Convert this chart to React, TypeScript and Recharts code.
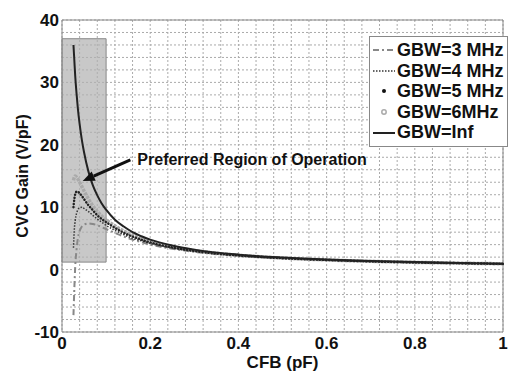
import React from "react"
import {
  LineChart,
  Line,
  XAxis,
  YAxis,
  CartesianGrid,
  ReferenceArea,
  ReferenceLine,
  Legend,
} from "recharts"

// CFB values (pF) shared by all curves
const cfb = [
  0.026, 0.028, 0.03, 0.033, 0.036, 0.04, 0.045, 0.05, 0.06, 0.07, 0.08, 0.09, 0.1, 0.12, 0.14, 0.16, 0.18,
  0.2, 0.25, 0.3, 0.4, 0.5, 0.6, 0.7, 0.8, 0.9, 1.0,
]

// CVC gain (V/pF)
const gbw3 = [
  -7.3, -3.0, 0.5, 3.2, 5.0, 6.2, 6.9, 7.2, 7.4, 7.3, 7.1, 6.8, 6.5, 5.9, 5.3, 4.8, 4.4, 4.0, 3.35, 2.85, 2.2,
  1.8, 1.52, 1.3, 1.13, 1.01, 0.91,
]
const gbw4 = [
  3.5, 6.5, 7.9, 9.0, 9.6, 9.9, 10.0, 9.8, 9.3, 8.7, 8.1, 7.6, 7.1, 6.3, 5.6, 5.0, 4.6, 4.2, 3.45, 2.93, 2.24,
  1.82, 1.53, 1.31, 1.14, 1.02, 0.92,
]
const gbw5 = [
  10.0, 11.3, 12.1, 12.5, 12.5, 12.2, 11.8, 11.3, 10.3, 9.5, 8.7, 8.1, 7.6, 6.7, 5.9, 5.3, 4.8, 4.35, 3.55, 3.0,
  2.27, 1.84, 1.54, 1.32, 1.15, 1.03, 0.92,
]
const gbw6 = [
  14.3, 14.8, 15.0, 14.8, 14.5, 14.0, 13.3, 12.6, 11.3, 10.2, 9.3, 8.6, 8.0, 7.0, 6.2, 5.5, 4.95, 4.5, 3.65,
  3.05, 2.3, 1.86, 1.55, 1.33, 1.16, 1.04, 0.93,
]
const gbwInf = [
  36.0, 33.5, 31.0, 28.2, 25.8, 23.3, 20.8, 18.8, 15.7, 13.5, 11.9, 10.6, 9.6, 8.0, 6.9, 6.0, 5.35, 4.8, 3.85,
  3.2, 2.4, 1.93, 1.6, 1.37, 1.2, 1.07, 0.95,
]

// ticks: every grid line is a tick, only some get a label
const xLabels = [0, 0.2, 0.4, 0.6, 0.8, 1]
const yLabels = [-10, 0, 10, 20, 30, 40]
const xGrid = [
  0, 0.04, 0.08, 0.12, 0.16, 0.2, 0.24, 0.28, 0.32, 0.36, 0.4, 0.44, 0.48, 0.52, 0.56, 0.6, 0.64, 0.68, 0.72,
  0.76, 0.8, 0.84, 0.88, 0.92, 0.96, 1,
]
const yGrid = [
  -10, -8, -6, -4, -2, 0, 2, 4, 6, 8, 10, 12, 14, 16, 18, 20, 22, 24, 26, 28, 30, 32, 34, 36, 38, 40,
]

const legendItems = [
  { key: "g3", label: "GBW=3 MHz" },
  { key: "g4", label: "GBW=4 MHz" },
  { key: "g5", label: "GBW=5 MHz" },
  { key: "g6", label: "GBW=6MHz" },
  { key: "inf", label: "GBW=Inf" },
]

const data = cfb.map((x, i) => ({
  cfb: x,
  g3: gbw3[i],
  g4: gbw4[i],
  g5: gbw5[i],
  g6: gbw6[i],
  inf: gbwInf[i],
}))

const font = "'Liberation Sans', Arial, sans-serif"

const fmt = (labels: number[]) => (v: number) =>
  labels.some((l) => Math.abs(l - v) < 1e-9) ? String(v) : ""

const Sample = ({ k }: { k: string }) => (
  <svg width={24} height={12} style={{ marginRight: 1 }}>
    {k === "g3" && <line x1={1} y1={6} x2={23} y2={6} stroke="#888" strokeWidth={2} strokeDasharray="6 3 2 3" />}
    {k === "g4" && <line x1={1} y1={6} x2={23} y2={6} stroke="#333" strokeWidth={1.5} strokeDasharray="1.5 1.5" />}
    {k === "g5" && <circle cx={12} cy={6} r={2} fill="#111" />}
    {k === "g6" && <circle cx={12} cy={6} r={2.2} fill="none" stroke="#aaa" strokeWidth={1.5} />}
    {k === "inf" && <line x1={1} y1={6} x2={23} y2={6} stroke="#222" strokeWidth={2} />}
  </svg>
)

const renderLegend = () => (
  <div
    style={{
      border: "1.5px solid #888",
      background: "#fff",
      padding: "3px 3px 3px 2px",
      fontFamily: font,
      fontWeight: "bold",
      fontSize: 18,
      lineHeight: "20.6px",
      color: "#111",
    }}
  >
    {legendItems.map((it) => (
      <div key={it.key} style={{ display: "flex", alignItems: "center", whiteSpace: "nowrap" }}>
        <Sample k={it.key} />
        <span>{it.label}</span>
      </div>
    ))}
  </div>
)

const Arrow = (props: any) => {
  const { x1, y1, x2, y2 } = props
  const ang = Math.atan2(y2 - y1, x2 - x1)
  const len = 12
  const w = 5
  const bx = x2 - len * Math.cos(ang)
  const by = y2 - len * Math.sin(ang)
  const p1 = `${bx + w * Math.sin(ang)},${by - w * Math.cos(ang)}`
  const p2 = `${bx - w * Math.sin(ang)},${by + w * Math.cos(ang)}`
  return (
    <g>
      <line x1={x1} y1={y1} x2={bx} y2={by} stroke="#111" strokeWidth={3} />
      <polygon points={`${x2},${y2} ${p1} ${p2}`} fill="#111" />
      <text x={x1 + 7} y={y1 + 5} fontFamily={font} fontWeight="bold" fontSize={16} fill="#111">
        Preferred Region of Operation
      </text>
    </g>
  )
}

export default function App() {
  return (
    <div style={{ position: "absolute", left: 0, top: 0 }}>
      <LineChart width={508} height={372} data={data} margin={{ top: 20, right: 5, bottom: 0, left: 0 }}>
        <CartesianGrid stroke="#aaa" strokeDasharray="2 2" />
        <XAxis
          dataKey="cfb"
          type="number"
          domain={[0, 1]}
          ticks={xGrid}
          interval={0}
          tickFormatter={fmt(xLabels)}
          height={40}
          tickSize={0}
          tickMargin={5}
          tickLine={false}
          stroke="#888"
          tick={{ fill: "#111", fontFamily: font, fontWeight: "bold", fontSize: 17 }}
          label={{
            value: "CFB (pF)",
            position: "insideBottom",
            offset: 4,
            style: { fill: "#111", fontFamily: font, fontWeight: "bold", fontSize: 17 },
          }}
        />
        <YAxis
          type="number"
          domain={[-10, 40]}
          ticks={yGrid}
          interval={0}
          tickFormatter={fmt(yLabels)}
          width={62}
          tickSize={0}
          tickMargin={3}
          tickLine={false}
          stroke="#888"
          tick={{ fill: "#111", fontFamily: font, fontWeight: "bold", fontSize: 17 }}
          label={{
            value: "CVC Gain (V/pF)",
            angle: -90,
            position: "insideLeft",
            offset: 22,
            style: { textAnchor: "middle", fill: "#111", fontFamily: font, fontWeight: "bold", fontSize: 16 },
          }}
        />
        <ReferenceLine y={40} stroke="#888" />
        <ReferenceLine x={1} stroke="#888" />
        <ReferenceArea x1={0} x2={0.1} y1={1.2} y2={37} fill="#b0b0b0" fillOpacity={0.7} stroke="#888" strokeWidth={1} />
        <Line
          dataKey="g6"
          type="monotone"
          stroke="#aaa"
          strokeWidth={3.5}
          strokeDasharray="3 1"
          dot={false}
          isAnimationActive={false}
        />
        <Line
          dataKey="g3"
          type="monotone"
          stroke="#888"
          strokeWidth={2}
          strokeDasharray="6 3 2 3"
          dot={false}
          isAnimationActive={false}
        />
        <Line
          dataKey="g4"
          type="monotone"
          stroke="#333"
          strokeWidth={1.5}
          strokeDasharray="1.5 1.5"
          dot={false}
          isAnimationActive={false}
        />
        <Line
          dataKey="g5"
          type="monotone"
          stroke="#222"
          strokeWidth={2.5}
          strokeLinecap="round"
          strokeDasharray="0.1 3"
          dot={false}
          isAnimationActive={false}
        />
        <Line dataKey="inf" type="monotone" stroke="#222" strokeWidth={2} dot={false} isAnimationActive={false} />
        <ReferenceLine
          segment={[
            { x: 0.155, y: 17.6 },
            { x: 0.047, y: 14.2 },
          ]}
          shape={Arrow}
        />
        <Legend
          layout="horizontal"
          verticalAlign="middle"
          align="center"
          content={renderLegend}
          wrapperStyle={{ left: 369, top: 36, width: "auto", height: "auto" }}
        />
      </LineChart>
    </div>
  )
}
